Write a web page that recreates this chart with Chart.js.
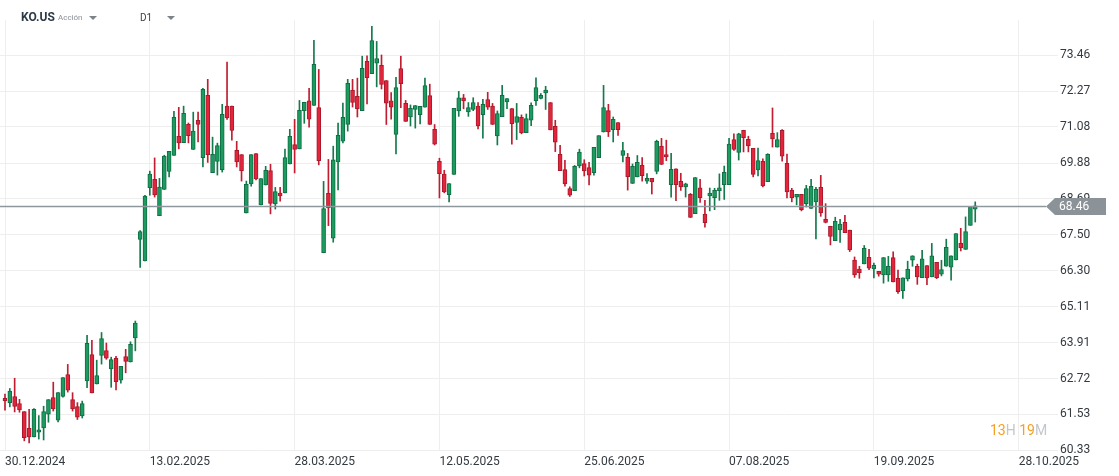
<!DOCTYPE html>
<html>
<head>
<meta charset="utf-8">
<script src="https://cdn.jsdelivr.net/npm/chart.js@4.4.1/dist/chart.umd.min.js"></script>
<style>
  html, body { margin: 0; padding: 0; background: #ffffff; }
  #wrap { position: relative; width: 1119px; height: 476px; overflow: hidden; font-family: Roboto, "Noto Sans", sans-serif; }
  #c { position: absolute; left: 0; top: 0; }
  .hdr { position: absolute; white-space: nowrap; }
  .tri { position: absolute; width: 0; height: 0; border-left: 4px solid transparent; border-right: 4px solid transparent; border-top: 4px solid #7d8287; }
</style>
</head>
<body>
<div id="wrap">
  <canvas id="c" width="1119" height="476"></canvas>
  <div class="hdr" style="left:21px; top:10px; font-size:12px; font-weight:700; color:#2c3a47;">KO.US</div>
  <div class="hdr" style="left:58px; top:13px; font-size:8px; color:#8a8f94;">Acción</div>
  <div class="tri" style="left:89px; top:16px;"></div>
  <div class="hdr" style="left:140px; top:12px; font-size:10px; color:#3a3f44;">D1</div>
  <div class="tri" style="left:167px; top:16px;"></div>
  <div class="hdr" style="left:990px; top:422px; font-size:14px;"><span style="color:#f5a021;">13</span><span style="color:#c3c7cb;">H </span><span style="color:#f5a021;">19</span><span style="color:#c3c7cb;">M</span></div>
</div>
<script>
// ---- data: KO.US daily candles, index 0 = 30.12.2024 ----
const opens = [
62.06,61.92,62.12,61.89,61.62,61.07,60.78,60.94,61.08,61.54,
62.09,61.34,62.13,62.85,62.02,61.79,61.48,62.64,63.52,62.54,
63.49,63.65,63.04,63.39,62.67,63.45,63.27,64.07,67.34,66.63,
69.06,69.34,68.13,69.00,69.60,70.13,70.77,70.56,71.17,70.33,
71.30,70.06,72.13,69.56,69.93,69.66,71.77,71.77,70.30,70.16,
68.22,69.19,70.19,68.49,69.15,69.63,68.52,68.88,68.89,69.85,
70.49,70.35,71.62,71.95,71.79,71.72,66.90,68.87,67.38,69.92,
70.61,71.16,72.30,72.10,71.62,73.26,72.85,73.20,73.13,72.62,
71.95,70.83,73.02,71.86,71.41,71.66,71.49,71.74,72.12,71.00,
69.94,69.51,68.83,69.50,71.61,72.05,71.58,71.66,71.77,71.49,
71.99,71.77,70.78,71.42,71.91,71.69,71.23,71.40,70.89,71.30,
71.95,72.03,72.21,71.89,71.10,70.17,69.66,69.03,68.96,69.78,
69.86,69.73,69.56,70.06,70.91,71.62,70.99,71.22,70.13,70.07,
69.20,69.42,69.80,69.28,69.37,69.60,70.44,70.16,69.16,69.69,
69.27,69.09,68.84,68.20,69.06,68.18,68.79,68.73,68.96,69.16,
69.16,70.66,70.23,70.97,70.67,70.37,69.65,69.94,69.26,70.87,
70.41,70.97,69.87,68.97,68.75,68.84,68.53,68.37,68.59,69.07,
68.01,67.78,67.30,67.66,67.91,67.65,66.66,66.36,66.53,66.75,
66.36,66.28,66.16,66.16,66.74,66.05,65.64,66.03,66.65,66.45,
66.07,66.47,66.10,66.58,66.19,66.45,66.42,66.66,67.21,67.01,
67.81,68.35];
const highs = [
62.20,62.39,62.73,62.03,61.62,61.70,61.72,61.49,61.80,62.02,
62.60,62.25,62.75,63.19,62.25,61.92,61.97,64.16,63.99,63.33,
64.25,63.90,63.43,63.46,63.13,63.69,63.94,64.63,67.64,68.81,
69.61,70.05,69.37,70.14,70.27,71.60,71.73,71.77,71.21,71.57,
71.57,72.36,72.66,70.74,70.54,71.83,73.23,71.77,70.60,70.16,
69.28,70.16,70.19,69.36,69.77,69.84,69.07,69.07,70.34,71.00,
71.33,71.96,71.90,72.36,73.96,72.99,69.27,70.00,70.44,71.21,
71.87,72.66,72.66,72.70,73.43,73.44,74.42,73.92,73.47,72.62,
72.22,72.73,73.43,71.96,71.81,71.79,71.76,72.70,72.50,71.16,
70.04,69.64,69.20,71.70,72.26,72.16,71.89,72.05,71.89,72.00,
72.23,71.86,71.61,72.46,72.02,71.69,71.86,71.48,71.51,71.88,
72.71,72.19,72.43,71.89,71.30,70.47,69.97,69.09,69.80,70.34,
69.99,69.90,70.40,70.79,72.46,71.83,71.41,71.22,70.57,70.20,
69.85,70.13,70.06,69.53,69.37,70.64,70.70,70.64,70.20,69.69,
69.54,69.21,68.87,69.40,69.34,68.64,69.05,69.04,69.52,69.78,
70.70,70.85,70.87,70.97,70.77,70.37,70.38,70.02,70.19,71.71,
70.89,70.99,70.18,69.04,68.84,68.84,69.14,69.34,69.07,69.47,
68.53,67.78,68.08,68.01,68.14,67.65,66.76,66.45,67.14,67.01,
66.56,66.28,66.74,66.78,66.93,66.32,66.07,66.62,66.80,66.52,
66.98,66.47,67.21,66.58,66.65,67.35,66.80,67.54,67.71,68.09,
68.44,68.59];
const lows = [
61.67,61.78,61.61,61.60,60.65,60.58,60.78,60.71,60.68,61.27,
61.64,61.28,62.10,62.27,61.64,61.36,61.41,62.42,62.24,62.54,
63.20,63.36,62.43,62.34,62.57,62.91,63.27,63.64,66.41,66.63,
68.81,68.75,68.13,69.00,69.42,70.13,70.35,70.56,70.55,70.33,
70.58,69.75,69.90,69.56,69.48,69.58,71.33,70.64,69.75,69.28,
68.22,69.11,69.32,68.49,69.15,68.19,68.35,68.61,68.89,69.85,
69.55,70.35,71.20,71.07,71.79,69.82,66.90,67.80,67.25,68.99,
70.55,70.94,71.74,71.41,71.62,71.84,72.85,72.41,72.34,71.16,
71.34,70.18,71.72,71.26,71.11,71.04,71.18,71.74,71.16,70.48,
68.72,68.89,68.59,69.50,71.43,71.68,71.43,71.62,71.01,70.71,
71.66,71.16,70.48,71.42,71.69,70.51,70.66,70.85,70.89,71.12,
71.79,72.01,71.66,70.98,70.26,69.63,69.11,68.77,68.96,69.72,
69.45,69.15,69.48,70.06,70.91,70.76,70.58,70.80,69.92,68.98,
69.20,69.42,69.28,69.20,68.85,69.52,69.83,69.96,68.75,68.63,
68.97,68.75,68.07,68.20,68.57,67.75,68.29,68.33,68.64,68.67,
69.16,70.30,69.98,70.25,70.25,69.42,69.45,69.09,69.26,70.41,
70.41,69.94,68.72,68.59,68.49,68.29,68.42,68.37,67.36,68.11,
67.89,67.16,67.30,67.24,67.57,66.94,66.08,66.05,66.53,66.34,
66.06,66.12,65.89,65.95,65.93,65.55,65.38,65.96,66.45,65.85,
66.07,65.84,66.10,66.04,66.13,66.45,65.99,66.66,66.96,67.01,
67.81,67.92];
const closes = [
61.98,62.30,61.79,61.68,60.76,60.78,61.70,61.02,61.62,62.02,
61.71,62.25,62.75,62.33,61.71,61.44,61.89,63.89,62.24,62.82,
64.05,63.40,63.35,62.62,63.13,63.29,63.86,64.56,67.60,68.78,
69.51,68.82,69.08,70.11,70.27,71.40,70.55,71.53,70.79,70.94,
71.16,72.33,70.16,70.17,70.46,71.50,71.38,70.96,69.92,69.62,
69.17,70.16,69.35,69.36,69.64,68.54,68.93,68.79,70.06,70.77,
70.33,71.63,71.90,71.34,73.16,69.96,68.37,68.39,69.99,70.80,
71.40,72.53,71.89,71.68,73.03,72.72,73.95,73.35,72.49,71.87,
71.74,72.39,72.52,71.26,71.70,71.79,71.76,72.45,71.16,70.51,
69.53,68.92,69.20,71.70,72.05,71.94,71.72,71.89,71.11,71.83,
71.74,71.16,71.52,72.13,72.02,71.19,71.42,70.88,71.36,71.80,
72.39,72.13,72.30,70.98,70.57,69.63,69.19,68.81,69.77,70.24,
69.62,69.48,70.40,70.79,71.72,70.91,71.33,70.99,70.29,69.43,
69.77,69.90,69.46,69.37,69.25,70.60,69.83,70.08,69.67,69.16,
69.09,69.19,68.07,69.40,68.73,67.90,68.88,68.97,69.06,69.57,
70.51,70.33,70.85,70.72,70.45,69.50,69.96,69.12,70.17,70.68,
70.66,70.11,68.92,68.73,68.84,68.33,69.03,69.11,69.01,68.22,
67.91,67.44,67.94,67.85,67.57,66.99,66.16,66.24,67.05,66.39,
66.48,66.19,66.74,66.45,65.93,65.61,66.07,66.35,66.80,66.10,
66.70,66.06,66.80,66.07,66.34,67.08,66.80,67.54,67.06,67.60,
68.44,68.46];
const dateTickIndex = [0, 30, 60, 90, 120, 150, 180, 210];
const dateTickLabels = ['30.12.2024','13.02.2025','28.03.2025','12.05.2025','25.06.2025','07.08.2025','19.09.2025','28.10.2025'];
const priceTicks = [60.33, 61.53, 62.72, 63.91, 65.11, 66.30, 67.50, 68.69, 69.88, 71.08, 72.27, 73.46];
const lastPrice = 68.46;

// ---- styling ----
const UP_FILL = '#1c9a5f', UP_LINE = '#0f6e43';
const DN_FILL = '#e3243b', DN_LINE = '#a8192b';
const GRID = '#eeeeee';
const isUp = i => closes[i] >= opens[i];

const bodies = opens.map((o, i) => ({ x: i, y: [o, closes[i]] }));
const wicks = highs.map((h, i) => ({ x: i, y: [lows[i], h] }));

const priceLine = {
  id: 'priceLine',
  afterDraw(chart) {
    const { ctx, chartArea, scales } = chart;
    const y = Math.round(scales.y.getPixelForValue(lastPrice)) + 0.5;
    ctx.save();
    ctx.strokeStyle = '#8e979c';
    ctx.lineWidth = 1.3;
    ctx.beginPath();
    ctx.moveTo(chartArea.left, y);
    ctx.lineTo(chartArea.right, y);
    ctx.stroke();
    const x0 = chartArea.right, h = 8.5;
    ctx.fillStyle = '#8b9399';
    ctx.beginPath();
    ctx.moveTo(x0, y);
    ctx.lineTo(x0 + 9, y - h);
    ctx.lineTo(1106, y - h);
    ctx.lineTo(1106, y + h);
    ctx.lineTo(x0 + 9, y + h);
    ctx.closePath();
    ctx.fill();
    ctx.fillStyle = '#ffffff';
    ctx.font = '12px Roboto';
    ctx.textBaseline = 'middle';
    ctx.textAlign = 'left';
    ctx.fillText(lastPrice.toFixed(2), 1059, y + 0.5);
    ctx.restore();
  }
};

new Chart(document.getElementById('c'), {
  type: 'bar',
  data: {
    datasets: [
      {
        label: 'body',
        data: bodies,
        order: 0,
        grouped: false,
        barThickness: 4,
        borderWidth: 1,
        borderSkipped: false,
        backgroundColor: c => isUp(c.dataIndex) ? UP_FILL : DN_FILL,
        borderColor: c => isUp(c.dataIndex) ? UP_LINE : DN_LINE
      },
      {
        label: 'wick',
        data: wicks,
        order: 1,
        grouped: false,
        barThickness: 1,
        borderWidth: 0,
        backgroundColor: c => isUp(c.dataIndex) ? '#137a4c' : '#c01d31'
      }
    ]
  },
  options: {
    responsive: false,
    animation: false,
    events: [],
    layout: { padding: { top: 20, left: 0, right: 0, bottom: 0 } },
    plugins: { legend: { display: false }, tooltip: { enabled: false } },
    scales: {
      x: {
        type: 'linear',
        position: 'bottom',
        offset: false,
        min: -1.036,
        max: 215.66,
        afterFit: a => { a.height = 25; },
        afterBuildTicks: a => { a.ticks = dateTickIndex.map(v => ({ value: v })); },
        grid: { offset: false, color: GRID, drawTicks: false },
        border: { display: false },
        ticks: {
          autoSkip: false, maxRotation: 0, align: 'start', padding: 4,
          color: '#333a40', font: { family: 'Roboto', size: 12 },
          callback: v => dateTickLabels[dateTickIndex.indexOf(v)]
        }
      },
      y: {
        type: 'linear',
        position: 'right',
        min: 60.313,
        max: 74.632,
        afterFit: a => { a.width = 73; },
        afterBuildTicks: a => { a.ticks = priceTicks.map(v => ({ value: v })); },
        grid: { color: GRID, drawTicks: true, tickLength: 12, tickColor: GRID },
        border: { display: false },
        ticks: {
          autoSkip: false, padding: 2,
          color: '#333a40', font: { family: 'Roboto', size: 12 },
          callback: v => v.toFixed(2)
        }
      }
    }
  },
  plugins: [priceLine]
});
</script>
</body>
</html>
